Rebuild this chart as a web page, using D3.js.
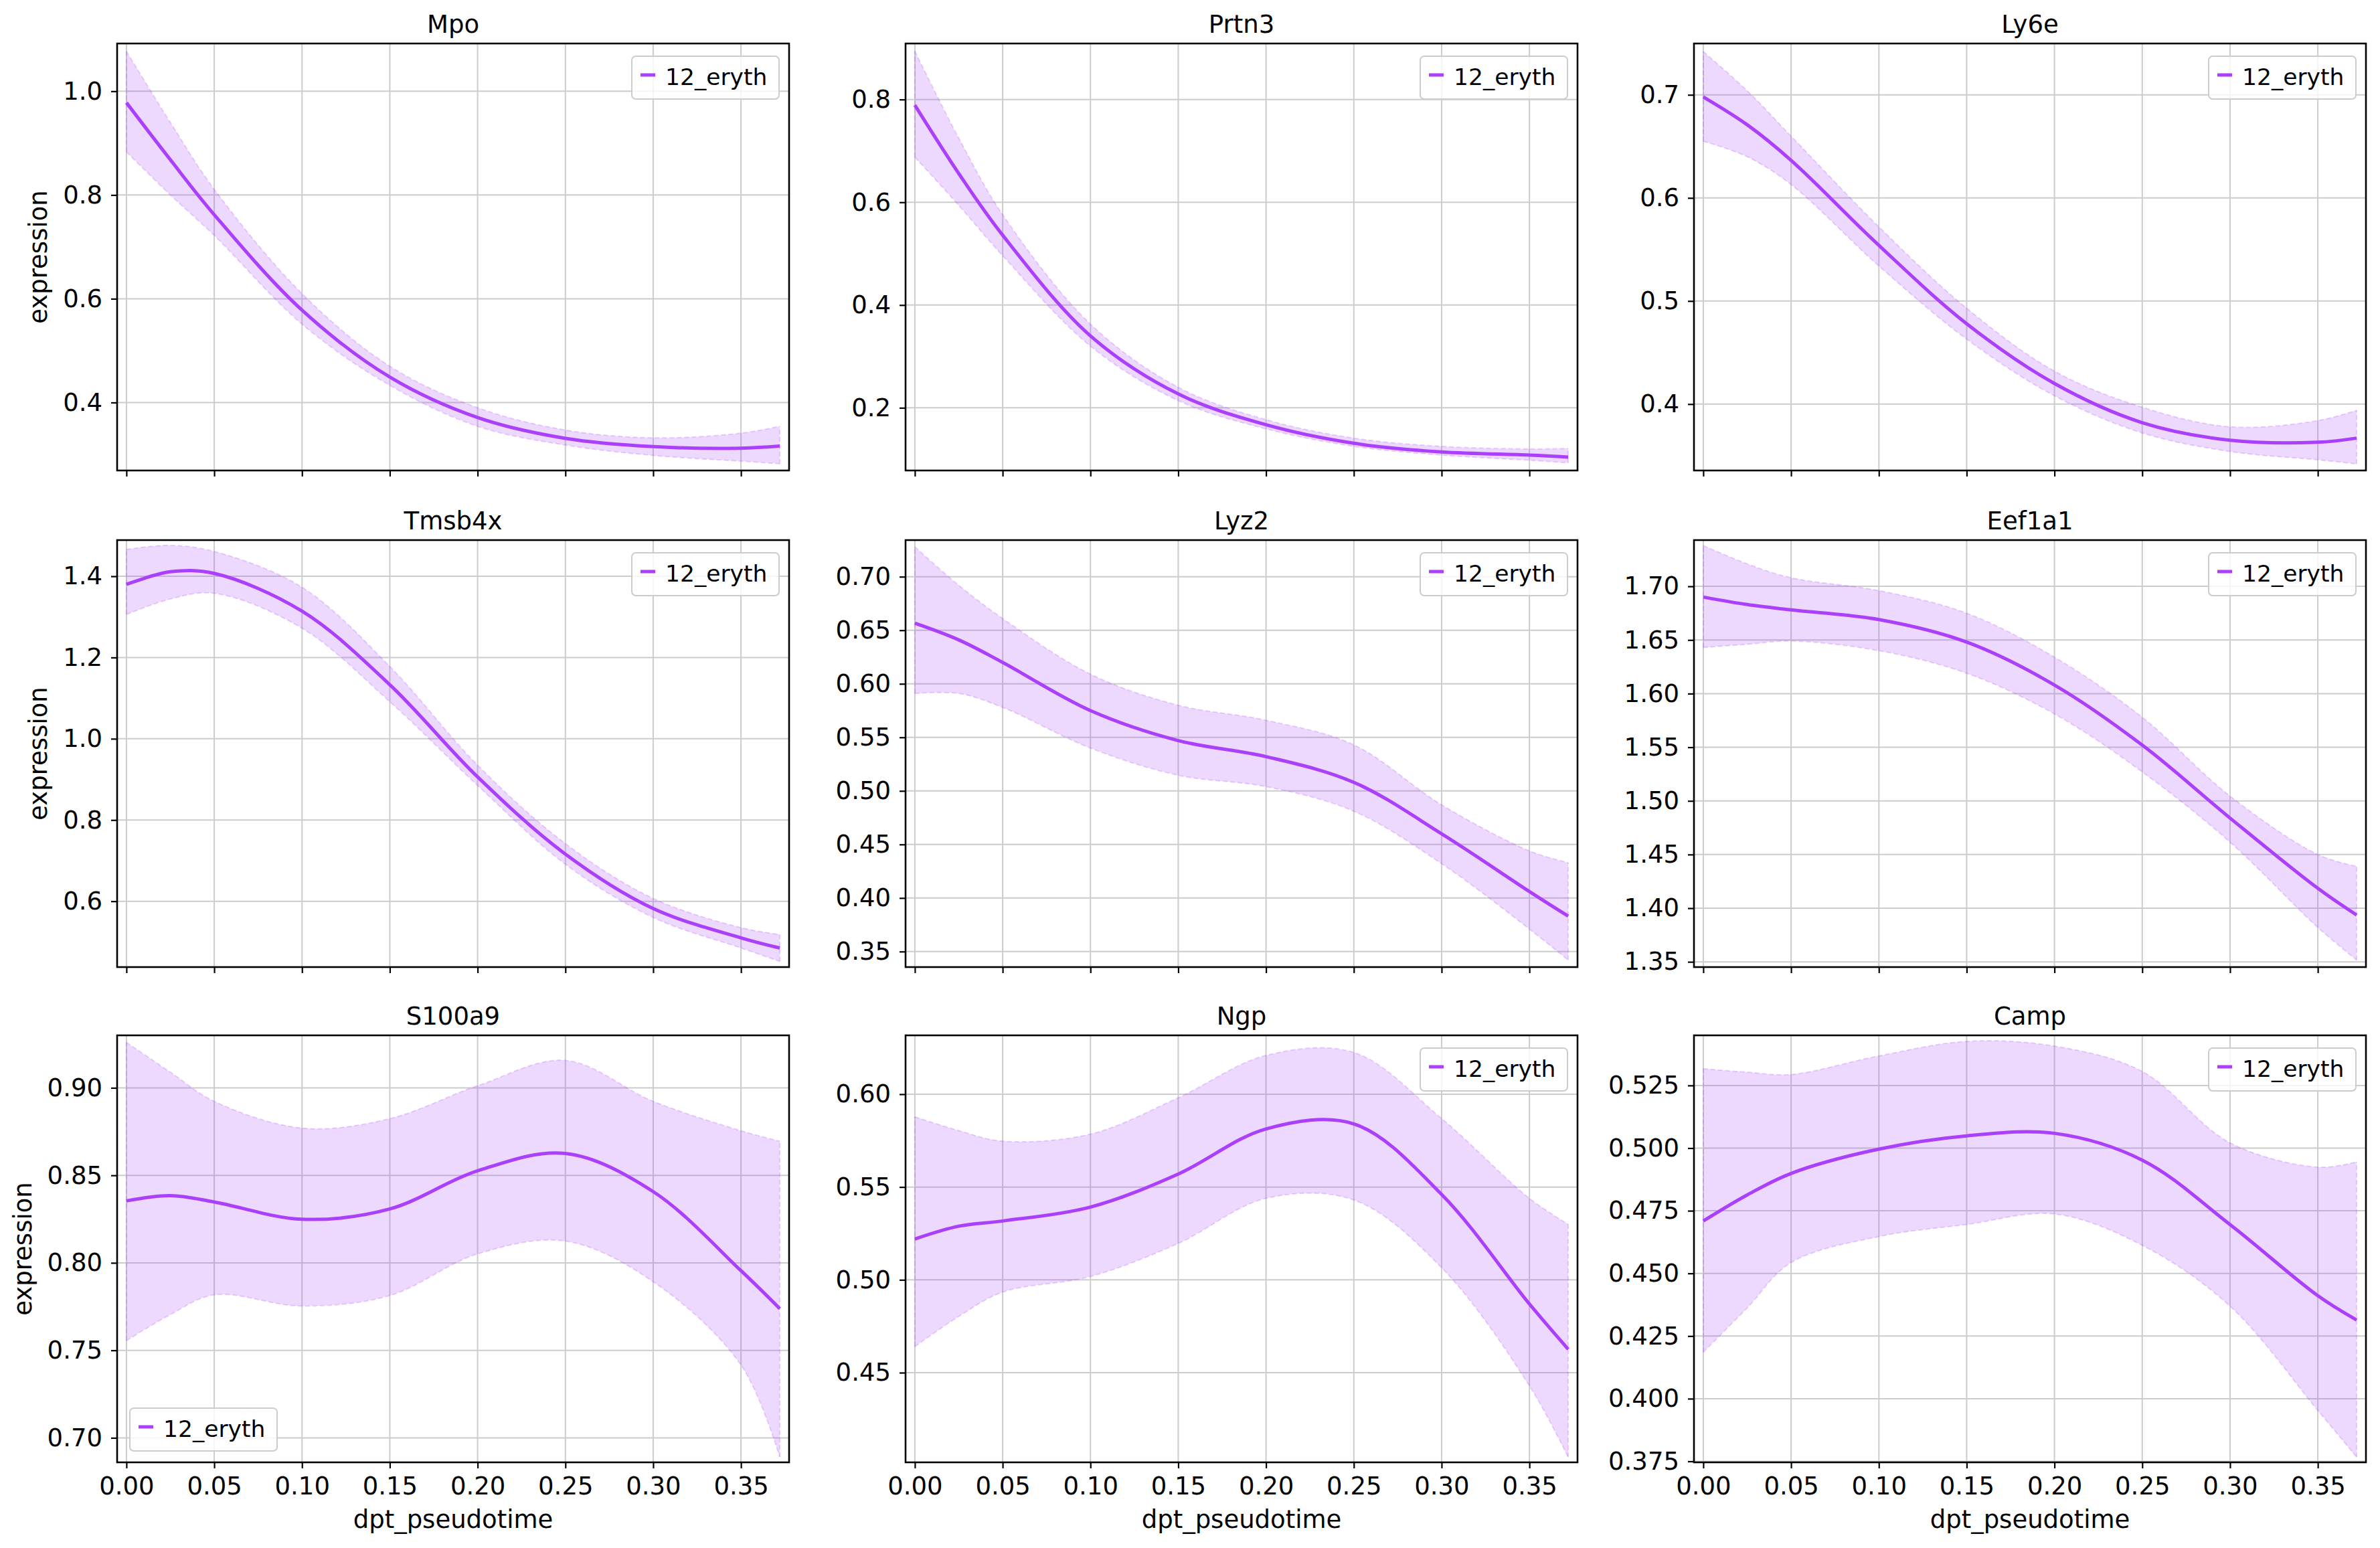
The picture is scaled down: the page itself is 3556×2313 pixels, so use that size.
<!DOCTYPE html>
<html>
<head>
<meta charset="utf-8">
<script src="https://cdn.jsdelivr.net/npm/d3@7"></script>
<style>
  body { margin: 0; background: #fff; }
  svg { display: block; font-family: "DejaVu Sans", sans-serif; }
</style>
</head>
<body>
<script>
// pseudotime grid the curves were read at
const xs = [0, 0.025, 0.05, 0.10, 0.15, 0.20, 0.25, 0.30, 0.35, 0.3721];

const genes = ["Mpo", "Prtn3", "Ly6e", "Tmsb4x", "Lyz2", "Eef1a1", "S100a9", "Ngp", "Camp"];

const meanVals = [
  [0.978, 0.868, 0.762, 0.578, 0.449, 0.371, 0.331, 0.315, 0.312, 0.316],
  [0.789, 0.656, 0.536, 0.340, 0.227, 0.167, 0.131, 0.114, 0.108, 0.104],
  [0.698, 0.671, 0.6365, 0.554, 0.478, 0.420, 0.382, 0.365, 0.363, 0.367],
  [1.380, 1.411, 1.407, 1.314, 1.133, 0.906, 0.716, 0.582, 0.510, 0.485],
  [0.6566, 0.641, 0.620, 0.575, 0.547, 0.532, 0.508, 0.460, 0.406, 0.383],
  [1.690, 1.683, 1.678, 1.669, 1.648, 1.608, 1.552, 1.484, 1.4185, 1.3936],
  [0.8354, 0.8384, 0.8348, 0.8249, 0.8308, 0.8526, 0.8625, 0.8407, 0.7955, 0.7738],
  [0.522, 0.5289, 0.5317, 0.5392, 0.557, 0.5813, 0.584, 0.546, 0.487, 0.4626],
  [0.4709, 0.4813, 0.4899, 0.4996, 0.5049, 0.5059, 0.4952, 0.4695, 0.4411, 0.4314]
];

const upperVals = [
  [1.077, 0.940, 0.811, 0.610, 0.470, 0.390, 0.347, 0.332, 0.341, 0.354],
  [0.894, 0.725, 0.576, 0.363, 0.240, 0.177, 0.141, 0.125, 0.120, 0.121],
  [0.742, 0.704, 0.660, 0.572, 0.493, 0.432, 0.397, 0.378, 0.384, 0.394],
  [1.466, 1.476, 1.461, 1.373, 1.178, 0.935, 0.742, 0.607, 0.535, 0.518],
  [0.728, 0.692, 0.661, 0.609, 0.580, 0.566, 0.543, 0.487, 0.444, 0.433],
  [1.738, 1.721, 1.708, 1.696, 1.675, 1.634, 1.578, 1.5045, 1.450, 1.439],
  [0.926, 0.909, 0.8923, 0.877, 0.8824, 0.9012, 0.9157, 0.8923, 0.8755, 0.8695],
  [0.5878, 0.5804, 0.5747, 0.5785, 0.5981, 0.6209, 0.6225, 0.5869, 0.5439, 0.5299],
  [0.5317, 0.5303, 0.5294, 0.5368, 0.5426, 0.5407, 0.5306, 0.5021, 0.4924, 0.4945]
];

const lowerVals = [
  [0.883, 0.800, 0.722, 0.551, 0.433, 0.354, 0.318, 0.298, 0.287, 0.282],
  [0.688, 0.594, 0.496, 0.320, 0.214, 0.159, 0.125, 0.108, 0.098, 0.093],
  [0.655, 0.640, 0.613, 0.534, 0.463, 0.408, 0.372, 0.354, 0.346, 0.342],
  [1.306, 1.344, 1.358, 1.272, 1.091, 0.885, 0.691, 0.560, 0.485, 0.452],
  [0.591, 0.591, 0.578, 0.540, 0.5146, 0.504, 0.481, 0.432, 0.371, 0.342],
  [1.643, 1.646, 1.649, 1.640, 1.619, 1.581, 1.527, 1.4615, 1.382, 1.3516],
  [0.7555, 0.7704, 0.7817, 0.7753, 0.7813, 0.8051, 0.8124, 0.7892, 0.7416, 0.6891],
  [0.464, 0.4803, 0.4934, 0.5018, 0.5196, 0.5439, 0.5430, 0.5065, 0.4429, 0.4045],
  [0.4185, 0.4362, 0.4543, 0.4647, 0.4695, 0.4737, 0.4612, 0.4369, 0.3953, 0.3767]
];

// y limits and ticks
const yDomains = [
  [0.269, 1.092], [0.078, 0.909], [0.3356, 0.7498],
  [0.438, 1.489], [0.3355, 0.7342], [1.3451, 1.7431],
  [0.686, 0.930], [0.4017, 0.6317], [0.3746, 0.545]
];
const yTicks = [
  [0.4, 0.6, 0.8, 1.0], [0.2, 0.4, 0.6, 0.8], [0.4, 0.5, 0.6, 0.7],
  [0.6, 0.8, 1.0, 1.2, 1.4], [0.35, 0.40, 0.45, 0.50, 0.55, 0.60, 0.65, 0.70],
  [1.35, 1.40, 1.45, 1.50, 1.55, 1.60, 1.65, 1.70],
  [0.70, 0.75, 0.80, 0.85, 0.90], [0.45, 0.50, 0.55, 0.60],
  [0.375, 0.400, 0.425, 0.450, 0.475, 0.500, 0.525]
];
const yDecimals = [1, 1, 1, 1, 2, 2, 2, 2, 3];
const xTicks = [0, 0.05, 0.10, 0.15, 0.20, 0.25, 0.30, 0.35];
const legendLoc = ["ur", "ur", "ur", "ur", "ur", "ur", "ll", "ur", "ur"];
const seriesName = "12_eryth";

const W = 3556, H = 2313;
const color = "#aa40fc";
const colX = [175, 1353, 2531], rowY = [65, 807, 1547];
const pw = 1004, ph = 638;
const fs = 37;

const svg = d3.select("body").append("svg")
  .attr("width", W).attr("height", H);
svg.append("rect").attr("width", W).attr("height", H).attr("fill", "#fff");

const x = d3.scaleLinear().domain([-0.0053, 0.3774]).range([0, pw]);

genes.forEach((gene, k) => {
  const r = Math.floor(k / 3), c = k % 3;
  const g = svg.append("g").attr("transform", `translate(${colX[c]},${rowY[r]})`);
  const y = d3.scaleLinear().domain(yDomains[k]).range([ph, 0]);

  // grid
  g.selectAll(".gx").data(xTicks).enter().append("line")
    .attr("x1", d => x(d)).attr("x2", d => x(d)).attr("y1", 0).attr("y2", ph)
    .attr("stroke", "#cccccc").attr("stroke-width", 2);
  g.selectAll(".gy").data(yTicks[k]).enter().append("line")
    .attr("y1", d => y(d)).attr("y2", d => y(d)).attr("x1", 0).attr("x2", pw)
    .attr("stroke", "#cccccc").attr("stroke-width", 2);

  const pts = xs.map((t, i) => ({ t, m: meanVals[k][i], lo: lowerVals[k][i], hi: upperVals[k][i] }));
  const curve = d3.curveCatmullRom.alpha(0.5);

  g.append("path").datum(pts)
    .attr("d", d3.area().x(d => x(d.t)).y0(d => y(d.lo)).y1(d => y(d.hi)).curve(curve))
    .attr("fill", color).attr("fill-opacity", 0.2).attr("stroke", "none");
  ["lo", "hi"].forEach(key => {
    g.append("path").datum(pts)
      .attr("d", d3.line().x(d => x(d.t)).y(d => y(d[key])).curve(curve))
      .attr("fill", "none").attr("stroke", color).attr("stroke-opacity", 0.22)
      .attr("stroke-width", 2).attr("stroke-dasharray", "7,4");
  });
  // vertical edges of the band
  [0, pts.length - 1].forEach(i => {
    g.append("line")
      .attr("x1", x(pts[i].t)).attr("x2", x(pts[i].t))
      .attr("y1", y(pts[i].lo)).attr("y2", y(pts[i].hi))
      .attr("stroke", color).attr("stroke-opacity", 0.22)
      .attr("stroke-width", 2).attr("stroke-dasharray", "7,4");
  });
  g.append("path").datum(pts)
    .attr("d", d3.line().x(d => x(d.t)).y(d => y(d.m)).curve(curve))
    .attr("fill", "none").attr("stroke", color).attr("stroke-width", 5);

  // axes
  const yAxis = d3.axisLeft(y).tickValues(yTicks[k]).tickSize(9).tickPadding(13)
    .tickFormat(d3.format("." + yDecimals[k] + "f"));
  const ya = g.append("g").call(yAxis);
  const xAxis = d3.axisBottom(x).tickValues(xTicks).tickSize(9).tickPadding(13)
    .tickFormat(r === 2 ? d3.format(".2f") : () => "");
  const xa = g.append("g").attr("transform", `translate(0,${ph})`).call(xAxis);
  [ya, xa].forEach(a => {
    a.select(".domain").remove();
    a.selectAll(".tick line").attr("stroke", "#000").attr("stroke-width", 2.2);
    a.selectAll(".tick text").attr("fill", "#000").attr("font-size", fs)
      .attr("font-family", "DejaVu Sans");
  });

  g.append("rect").attr("width", pw).attr("height", ph)
    .attr("fill", "none").attr("stroke", "#000").attr("stroke-width", 2.6);

  g.append("text").attr("x", pw / 2).attr("y", -16).attr("text-anchor", "middle")
    .attr("font-size", fs).text(gene);

  if (r === 2) {
    g.append("text").attr("x", pw / 2).attr("y", ph + 98).attr("text-anchor", "middle")
      .attr("font-size", fs).text("dpt_pseudotime");
  }
  if (c === 0) {
    let maxW = 0;
    ya.selectAll(".tick text").each(function () { maxW = Math.max(maxW, this.getComputedTextLength()); });
    const lx = -22 - maxW - 24;
    g.append("text").attr("transform", `translate(${lx},${ph / 2}) rotate(-90)`)
      .attr("text-anchor", "middle").attr("font-size", fs).text("expression");
  }

  // legend
  const lw = 220, lh = 64;
  const lx0 = legendLoc[k] === "ur" ? pw - 15 - lw : 19;
  const ly0 = legendLoc[k] === "ur" ? 19 : ph - 17 - lh;
  const lg = g.append("g").attr("transform", `translate(${lx0},${ly0})`);
  lg.append("rect").attr("width", lw).attr("height", lh).attr("rx", 6)
    .attr("fill", "#fff").attr("fill-opacity", 0.8)
    .attr("stroke", "#cccccc").attr("stroke-width", 2);
  lg.append("line").attr("x1", 13).attr("x2", 35).attr("y1", 28).attr("y2", 28)
    .attr("stroke", color).attr("stroke-width", 5);
  lg.append("text").attr("x", 50).attr("y", 43).attr("font-size", 34.5).text(seriesName);
});
</script>
</body>
</html>
